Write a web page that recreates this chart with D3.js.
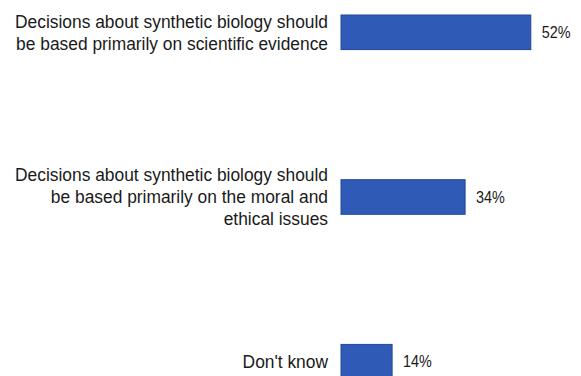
<!DOCTYPE html>
<html>
<head>
<meta charset="utf-8">
<script src="https://cdn.jsdelivr.net/npm/d3@7"></script>
<style>
  body { margin: 0; background: #fff; }
  svg { display: block; }
  text { font-family: "Liberation Sans", Arial, sans-serif; fill: #1a1a1a; }
</style>
</head>
<body>
<div id="viz"></div>
<script>
var categories = ['evidence', 'moral', 'dontknow'],
    categoryLines = [
      ['Decisions about synthetic biology should', 'be based primarily on scientific evidence'],
      ['Decisions about synthetic biology should', 'be based primarily on the moral and', 'ethical issues'],
      ["Don't know"]
    ],
    values = [52, 34, 14];

var width = 581,
    height = 376,
    barLeft = 341,
    textRight = 328,
    lineHeight = 22;

var svg = d3.select('#viz').append('svg')
  .attr('width', width)
  .attr('height', height);

var xScale = d3.scaleLinear()
  .domain([0, 100])
  .range([barLeft, barLeft + 365]);

var yScale = d3.scaleBand()
  .domain(categories)
  .range([15, 379])
  .paddingInner(0.79)
  .paddingOuter(0);

var rows = svg.selectAll('g.row')
  .data(categories)
  .enter().append('g')
    .attr('class', 'row')
    .attr('transform', function(d) {
      return 'translate(0,' + (yScale(d) + yScale.bandwidth() / 2) + ')';
    });

rows.append('rect')
  .attr('x', xScale(0))
  .attr('y', -yScale.bandwidth() / 2)
  .attr('width', function(d, i) { return xScale(values[i]) - xScale(0); })
  .attr('height', yScale.bandwidth())
  .attr('fill', '#2f5ab6')
  .attr('stroke', '#24479c')
  .attr('stroke-width', 1);

// value labels, a little condensed like the original
rows.append('g')
  .attr('transform', function(d, i) {
    return 'translate(' + (xScale(values[i]) + 11) + ',0) scale(0.9,1)';
  })
  .append('text')
    .attr('dy', '0.35em')
    .style('font-size', '16px')
    .text(function(d, i) { return values[i] + '%'; });

// multi-line category labels, right aligned and centred on the bar
rows.append('g')
  .attr('transform', 'translate(' + textRight + ',0) scale(0.94,1)')
  .append('text')
  .attr('text-anchor', 'end')
  .style('font-size', '18.5px')
  .each(function(d, i) {
    var lines = categoryLines[i],
        t = d3.select(this);
    lines.forEach(function(line, j) {
      t.append('tspan')
        .attr('x', 0)
        .attr('y', (j - (lines.length - 1) / 2) * lineHeight)
        .attr('dy', '0.35em')
        .text(line);
    });
  });
</script>
</body>
</html>
